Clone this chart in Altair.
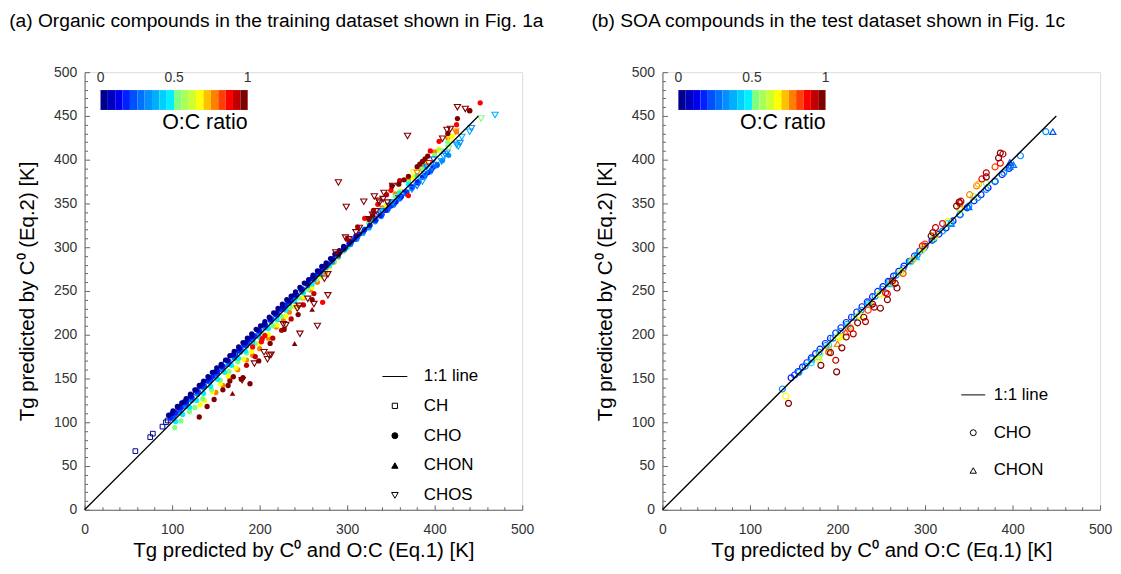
import altair as alt
import pandas as pd

# ------------------------------------------------------------------
# Colour map (20-level jet-like colour bar for O:C ratio 0..1)
# ------------------------------------------------------------------
OC_COLORS = ["#00008F", "#0000BF", "#0000EF", "#0020FF", "#0050FF",
             "#0070FF", "#0090FF", "#00B0FF", "#00D0FF", "#00F0FF",
             "#80FF80", "#A8FF58", "#D0FF30", "#FFFF00", "#FFC000",
             "#FF8000", "#FF4000", "#FF0000", "#C00000", "#800000"]
OC_BINS = [0, 0.05, 0.1, 0.15, 0.2, 0.25, 0.3, 0.35, 0.4, 0.45, 0.5,
           0.55, 0.6, 0.65, 0.7, 0.75, 0.8, 0.85, 0.9, 0.95, 1]
OC_TICKS = [0, 0.5, 1]

x_major = [0, 100, 200, 300, 400, 500]
x_minor = [20, 40, 60, 80, 120, 140, 160, 180, 220, 240, 260, 280,
           320, 340, 360, 380, 420, 440, 460, 480]
y_major = [0, 50, 100, 150, 200, 250, 300, 350, 400, 450, 500]
y_minor = [10, 20, 30, 40, 60, 70, 80, 90, 110, 120, 130, 140, 160, 170, 180, 190,
           210, 220, 230, 240, 260, 270, 280, 290, 310, 320, 330, 340, 360, 370,
           380, 390, 410, 420, 430, 440, 460, 470, 480, 490]

# 1:1 line end points
line_x = [0, 450]
line_y = [0, 450]

# ------------------------------------------------------------------
# Panel (a): training dataset
# ------------------------------------------------------------------
a_ch_x = [58, 75, 78, 89, 93, 95, 99, 103, 107, 111, 116, 121, 127, 134, 142, 151, 161, 172, 185]
a_ch_y = [67, 83, 87, 95, 100, 102, 106, 110, 114, 118, 123, 128, 134, 141, 148, 157, 167, 178, 190]
a_ch_oc = 0.0

a_cho1_x = [96, 101, 106, 111, 116, 121, 126, 131, 136, 141, 146, 151, 156, 161, 166, 171, 176, 181,
            186, 191, 196, 201, 206, 211, 216, 221, 226, 231, 236, 241, 246, 251, 256, 261, 266, 271,
            276, 281, 286, 291, 296]
a_cho1_y = [108, 113, 118, 122, 127, 132, 137, 142, 147, 152, 157, 162, 166, 171, 176, 181, 186, 191,
            196, 201, 206, 210, 215, 220, 225, 230, 235, 240, 244, 249, 254, 259, 263, 268, 273, 278,
            282, 287, 292, 296, 301]
a_cho1_oc = 0.02

a_cho1b_x = [100, 107, 114, 121, 128, 135, 142, 149, 156, 163, 170, 177, 184, 191, 198, 205, 212, 219,
             226, 233, 240, 247, 254, 261, 268, 275, 282, 289, 296, 303, 310]
a_cho1b_y = [110, 117, 123.5, 130, 137, 144, 150.5, 157.5, 164, 171, 177.5, 184.5, 191, 198, 205, 211.5,
             218.5, 225, 232, 238.5, 245.5, 252, 259, 266, 272.5, 279, 286, 293, 299.5, 306.5, 313]
a_cho1b_oc = 0.08

a_cho2_x = [98, 104, 110, 116, 122, 128, 134, 140, 146, 152, 158, 164, 170, 176, 182, 188, 194, 200,
            206, 212, 218, 224, 230, 236, 242, 248, 254, 260, 266, 272, 278, 284, 290, 296, 302, 308,
            314, 320, 326, 332, 338, 344, 350, 356, 362, 368, 374, 380, 386, 392, 398]
a_cho2_y = [105, 111, 117, 123, 129, 135, 141, 147, 152, 158, 164, 170, 176, 182, 188, 194, 199, 205,
            211, 217, 223, 229, 234, 240, 246, 252, 258, 264, 269, 275, 281, 287, 292, 298, 304, 309,
            315, 320, 325, 331, 336, 342, 347, 352, 358, 363, 369, 374, 380, 385, 391]
a_cho2_oc = 0.17

a_cho2b_x = [102, 109, 116, 123, 130, 137, 144, 151, 158, 165, 172, 179, 186, 193, 200, 207, 214, 221,
             228, 235, 242, 249, 256, 263, 270, 277, 284, 291, 298, 305, 312, 319, 326, 333, 340, 347,
             354, 361, 368, 375, 382, 389, 396, 403]
a_cho2b_y = [107, 114, 121, 128, 135, 141.5, 148.5, 155.5, 162.5, 169.5, 176.5, 183, 190, 197, 204, 211,
             218, 225, 231.5, 238.5, 245.5, 252.5, 259, 266, 273, 280, 286.5, 293, 299.5, 306, 312,
             318.5, 325, 331, 337.5, 344, 350, 356.5, 363, 369, 375.5, 382, 388, 394]
a_cho2b_oc = 0.22

a_cho3_x = [101, 108, 115, 122, 129, 136, 143, 150, 157, 164, 171, 178, 185, 192, 199, 206, 213, 220,
            227, 234, 241, 248, 255, 262, 269, 276, 283, 290, 297, 304, 311, 318, 325, 332, 339, 346,
            353, 360, 367, 374, 381, 388, 395, 402, 409, 416]
a_cho3_y = [104, 111, 118, 125, 132, 139, 146, 153, 160, 166, 173, 180, 187, 194, 201, 208, 215, 222,
            229, 236, 243, 249, 256, 263, 270, 277, 283, 290, 297, 303, 309, 316, 322, 329, 335, 342,
            348, 355, 361, 367, 373, 380, 386, 393, 399, 405]
a_cho3_oc = 0.32

a_cho4_x = [104, 112, 120, 128, 136, 144, 152, 160, 168, 176, 184, 192, 200, 210, 220, 230, 240, 250,
            260, 270, 280, 290, 300, 310, 320, 330, 340, 350, 360, 370, 380, 390]
a_cho4_y = [101, 109, 117, 125, 133, 141, 149, 157, 165, 173, 181, 189, 197, 207, 217, 228, 238, 248,
            258, 269, 279, 289, 300, 311, 321, 331, 342, 352, 362, 372, 382, 392]
a_cho4_oc = 0.47

a_cho5_x = [103, 110, 120, 126, 135, 145, 155, 165, 175, 185, 195, 205, 215, 225, 235, 245, 255, 265,
            275, 285, 295, 310, 325, 340, 355, 370, 385, 400, 415]
a_cho5_y = [94, 101.5, 112, 117, 127, 137, 148, 158, 169, 179, 190, 200, 210, 221, 231, 242, 252, 263,
            274, 284, 295, 311, 327, 343, 358, 374, 389, 405, 420]
a_cho5_oc = 0.53

a_cho6_x = [132, 137, 146, 155, 164, 173, 182, 191, 200, 210, 220, 230, 240, 250, 260, 270, 280, 290,
            300, 315, 330, 345, 360, 375, 390, 405, 420]
a_cho6_y = [120, 125, 135, 144, 153, 162, 172, 181, 190, 200, 211, 221, 232, 243, 254, 266, 277, 288,
            299, 316, 332, 348, 364, 380, 396, 412, 427]
a_cho6_oc = 0.67

a_cho7_x = [150, 158, 166, 175, 185, 192, 200, 210, 219, 227, 234, 242, 250, 258, 266, 275, 285, 295,
            310, 325, 340, 355, 370, 385, 400, 415, 425]
a_cho7_y = [134, 142, 150, 160, 171, 176.5, 184, 196, 208.7, 216, 225.8, 233, 242, 251, 260, 271, 283,
            295, 312, 328, 345, 361, 377, 393, 409, 425, 432]
a_cho7_oc = 0.77

a_cho8_x = [192, 202, 203, 206, 272, 320, 335, 350, 370, 395, 405, 425, 440, 452]
a_cho8_y = [186, 192, 195.5, 199, 237, 333, 349, 365, 359, 410, 421, 440, 456, 465]
a_cho8_oc = 0.87

a_cho9_x = [185, 195, 215, 225, 236, 250, 262, 300, 312, 330, 345, 360]
a_cho9_y = [165, 175, 196, 205, 218, 234, 247, 309, 323, 342, 360, 376]
a_cho9_oc = 0.92

a_cho10_x = [131, 140, 148, 158, 164, 166, 170, 179, 181, 189, 199, 212, 228, 244, 260, 325, 329, 351,
             359, 365, 370, 380, 383, 386, 389, 392, 415, 426, 440]
a_cho10_y = [106, 118, 126, 137, 142, 147, 152, 149, 151, 144, 170, 190, 206, 223, 240, 332, 336, 370,
             372, 377, 381, 392, 395, 398, 401, 404, 430, 447, 456]
a_cho10_oc = 0.97

a_chon_x = [169, 240, 260]
a_chon_y = [133, 190, 229]
a_chon_oc = [0.97, 0.97, 0.97]

a_chos_red_x = [180, 194, 205, 209, 211, 213, 227, 230, 243, 245, 246, 255, 262, 266, 274, 278, 278,
                287, 291, 290, 299, 298, 302, 310, 314, 319, 325, 329, 331, 333, 336, 337, 341, 342,
                346, 352, 369, 409, 414, 418, 426, 435]
a_chos_red_y = [148, 167, 180, 172, 176, 177, 212, 211, 230, 233, 201, 241, 235, 210, 264, 245, 269,
                294, 292, 374, 346, 311, 309, 317, 322, 352, 332, 337, 358, 341, 353, 351, 355, 362,
                351, 370, 427, 424, 434, 435, 460, 458]
a_chos_red_oc = 0.97

a_chos_x = [333, 340, 348, 352, 359, 367, 374, 380, 386, 389, 391, 397, 399, 401, 408, 410, 412, 414,
            425, 427, 429, 431, 440, 442, 469, 453, 406, 416, 418, 376, 424, 380, 393]
a_chos_y = [337, 341, 347, 351, 356, 362, 366, 370, 375, 383, 392, 391, 400, 394, 398, 404, 406, 408,
            417, 415, 419, 426, 432, 436, 451, 447, 409, 413, 423, 385, 432, 385, 396]
a_chos_oc = [0.22, 0.27, 0.22, 0.32, 0.27, 0.22, 0.32, 0.27, 0.37, 0.32, 0.27, 0.32, 0.22, 0.27, 0.32,
             0.37, 0.32, 0.27, 0.32, 0.37, 0.32, 0.37, 0.37, 0.32, 0.37, 0.53, 0.53, 0.53, 0.67, 0.67,
             0.77, 0.77, 0.87]

# ------------------------------------------------------------------
# Panel (b): SOA test dataset
# ------------------------------------------------------------------
b_cho1_x = [147, 151, 155, 160, 165, 170, 175, 180, 186, 192, 198, 204, 210, 216, 222, 228, 234, 240,
            246, 252, 258, 264, 270, 276, 282, 288, 294, 300, 308, 316, 324, 332, 340, 348, 356, 364,
            372, 380, 388, 396]
b_cho1_y = [150.8, 154, 158, 163, 168, 173.5, 178.5, 183.5, 190, 196, 202, 208, 214, 220, 226, 232,
            237.5, 243.5, 249.5, 255, 261, 267, 272.5, 278.5, 284, 290, 295.5, 301, 308, 315, 322, 330,
            337, 345, 353, 360, 368, 375, 383, 390]
b_cho1_oc = 0.17

b_cho2_x = [137, 156, 163, 171, 179, 187, 195, 203, 211, 219, 227, 235, 243, 251, 259, 267, 275, 283,
            291, 299, 310, 320, 330, 340, 350, 360, 370, 380, 390, 398, 409, 438]
b_cho2_y = [138, 157, 164, 172, 180, 188, 196, 204, 212, 220, 228, 236, 244, 252, 260, 268, 275.5, 283.5,
            291, 299, 309, 318.5, 328, 337.5, 347, 356.5, 366, 375.5, 385, 393, 404.5, 432]
b_cho2_oc = 0.32

b_cho3_x = [170, 180, 190, 200, 212, 224, 236, 248, 260, 272, 284, 296, 310, 325, 340, 355, 370]
b_cho3_y = [168, 178, 188, 198, 210, 222, 234.5, 246.5, 258.5, 271, 283.5, 296, 311, 327, 342.5, 358, 373]
b_cho3_oc = [0.47, 0.53, 0.47, 0.53, 0.47, 0.53, 0.47, 0.58, 0.47, 0.53, 0.47, 0.53, 0.58, 0.47, 0.53,
             0.58, 0.53]

b_cho4_x = [141, 178, 190, 202, 214, 226, 238, 250, 262, 274, 286, 298, 312, 326, 340, 351, 359, 361]
b_cho4_y = [130, 172, 184, 196.5, 209, 221.5, 234, 246.5, 259, 272, 285.5, 299, 314, 329.5, 345, 360,
            370, 372]
b_cho4_oc = [0.67, 0.67, 0.72, 0.67, 0.72, 0.67, 0.72, 0.67, 0.72, 0.67, 0.72, 0.67, 0.72, 0.67, 0.72,
             0.77, 0.77, 0.72]

b_cho5_x = [190, 215, 235, 255, 275, 297, 300, 320, 340, 365, 380, 386]
b_cho5_y = [180, 207, 228, 248, 270, 301.5, 303.5, 327, 350, 378, 391.7, 396]
b_cho5_oc = [0.82, 0.87, 0.82, 0.87, 0.82, 0.87, 0.82, 0.87, 0.82, 0.87, 0.82, 0.87]

b_cho6_x = [144, 181, 199, 198, 192, 205, 218, 210, 223, 232, 230, 249, 242, 240, 257, 257, 268, 266,
            263, 307, 309, 312, 336, 339, 341, 370, 370, 384, 386, 389]
b_cho6_y = [121.6, 165, 157.6, 170.8, 179.5, 185, 201, 197.4, 213.6, 215, 220, 230.3, 231.5, 235, 240,
            246.6, 253.4, 258.7, 261.7, 312.8, 316.7, 322.4, 347, 351.5, 352.6, 380.3, 385, 402, 407.6,
            406.5]
b_cho6_oc = [0.97, 0.97, 0.97, 0.92, 0.97, 0.97, 0.92, 0.97, 0.97, 0.92, 0.97, 0.97, 0.92, 0.97, 0.97,
             0.92, 0.97, 0.97, 0.92, 0.97, 0.97, 0.92, 0.97, 0.97, 0.92, 0.97, 0.92, 0.97, 0.97, 0.92]

b_chon_x = [446, 397, 401, 397, 179, 209.5, 200, 205, 260, 290, 330, 350]
b_chon_y = [432, 392.4, 394.3, 397, 174.6, 203, 189.8, 198, 258, 289, 327, 346]
b_chon_oc = [0.22, 0.27, 0.27, 0.22, 0.53, 0.82, 0.77, 0.67, 0.37, 0.42, 0.32, 0.27]

# legend entries
a_entries = ["1:1 line", "CH", "CHO", "CHON", "CHOS"]
a_shapes = ["stroke", "square", "circle", "triangle-up", "triangle-down"]
a_fills = ["transparent", "transparent", "black", "black", "transparent"]
a_sizes = [625, 28, 36, 40, 45]

b_entries = ["1:1 line", "CHO", "CHON"]
b_shapes = ["stroke", "circle", "triangle-up"]
b_fills = ["transparent", "transparent", "transparent"]
b_sizes = [576, 36, 40]

FONT = "Liberation Sans"
PW = 440
PH = 440


def frame(xs, ys, oc):
    if not isinstance(oc, list):
        oc = [oc] * len(xs)
    return pd.DataFrame({"x": xs, "y": ys, "oc": oc})


XS = alt.Scale(domain=[0, 500], nice=False, zero=False)
YS = alt.Scale(domain=[0, 500], nice=False, zero=False)
CS = alt.Scale(type="quantize", domain=[0, 1], range=OC_COLORS)


def oc_legend():
    return alt.Legend(
        type="gradient", direction="horizontal", orient="none",
        legendX=16, legendY=18, padding=0, values=OC_BINS,
        gradientLength=148, gradientThickness=20, gradientStrokeWidth=0,
        title="O:C ratio", titleOrient="bottom", titleAnchor="end",
        titleFontSize=21.5, titleFontWeight="normal", titleColor="black", titleFont=FONT,
        titlePadding=1,
        labelFontSize=1, labelOffset=0, labelOverlap=False, labelExpr="''",
    )


def pts(df, shape, filled, size, sw=1.0):
    return alt.Chart(df).mark_point(
        shape=shape, filled=filled, size=size, strokeWidth=sw, opacity=1
    ).encode(
        x=alt.X("x:Q", scale=XS, axis=None),
        y=alt.Y("y:Q", scale=YS, axis=None),
        color=alt.Color("oc:Q", scale=CS, legend=oc_legend()),
    )


def oc_tick_layer():
    # invisible gradient legend that only carries the colour-bar tick labels
    df = pd.DataFrame({"oc": OC_TICKS})
    return alt.Chart(df).transform_filter("false").mark_point().encode(
        stroke=alt.Stroke("oc:Q", scale=alt.Scale(domain=[-0.0001, 1.0001], range=["white", "white"]),
                          legend=alt.Legend(
                              type="gradient", direction="horizontal", orient="none",
                              legendX=16, legendY=-2, padding=0, title=None,
                              gradientLength=148, gradientThickness=1, gradientOpacity=0,
                              gradientStrokeWidth=0, values=OC_TICKS, labelAlign="center",
                              labelBaseline="middle", labelOffset=0, labelOverlap=False,
                              labelFontSize=14, labelColor="#333", labelFont=FONT,
                              labelExpr="datum.value == 0.5 ? '0.5' : datum.value == 1 ? '1' : '0'")),
    )


def base_layers(xtitle, ytitle):
    ldf = pd.DataFrame({"x": line_x, "y": line_y})
    line = alt.Chart(ldf).mark_line(color="black", strokeWidth=1.3).encode(
        x=alt.X("x:Q", scale=XS, axis=alt.Axis(
            values=x_major, title=xtitle, ticks=False, tickSize=0, grid=False,
            labelPadding=13, titlePadding=4, labelFontSize=14, titleFontSize=20.5,
            titleFontWeight="normal", labelColor="#333", titleColor="black",
            domainColor="#666", labelFlush=False, labelFont=FONT, titleFont=FONT)),
        y=alt.Y("y:Q", scale=YS, axis=alt.Axis(
            values=y_major, title=ytitle, ticks=False, tickSize=0, grid=False,
            labelPadding=8, titlePadding=16, labelFontSize=14, titleFontSize=20.5,
            titleFontWeight="normal", labelColor="#333", titleColor="black",
            domainColor="#666", labelFlush=False, labelFont=FONT, titleFont=FONT)),
    )
    major = alt.Chart(ldf).mark_point(opacity=0, size=1).encode(
        x=alt.X("x:Q", scale=XS, axis=alt.Axis(
            orient="top", offset=-PH, values=x_major, tickSize=5, labels=False,
            domain=False, title=None, grid=False, tickColor="#666")),
        y=alt.Y("y:Q", scale=YS, axis=alt.Axis(
            orient="right", offset=-PW, values=y_major, tickSize=5, labels=False,
            domain=False, title=None, grid=False, tickColor="#666")),
    )
    minor = alt.Chart(ldf).mark_point(opacity=0, size=1).encode(
        x=alt.X("x:Q", scale=XS, axis=alt.Axis(
            orient="top", offset=-PH, values=x_minor, tickSize=3, labels=False,
            domain=False, title=None, grid=False, tickColor="#666")),
        y=alt.Y("y:Q", scale=YS, axis=alt.Axis(
            orient="right", offset=-PW, values=y_minor, tickSize=3, labels=False,
            domain=False, title=None, grid=False, tickColor="#666")),
    )
    return line, major, minor


def key_layer(entries, shapes, fills, sizes, lx, ly, loff, rowpad):
    leg = alt.Legend(
        title=None, orient="none", legendX=lx, legendY=ly, padding=0,
        labelFontSize=17, labelColor="black", labelFont=FONT, labelOffset=loff,
        rowPadding=rowpad, symbolStrokeWidth=1,
    )
    df = pd.DataFrame({"entry": entries})
    return alt.Chart(df).transform_filter("false").mark_point(
        filled=False, color="black", strokeWidth=1, opacity=1
    ).encode(
        shape=alt.Shape("entry:N", scale=alt.Scale(domain=entries, range=shapes), legend=leg),
        fill=alt.Fill("entry:N", scale=alt.Scale(domain=entries, range=fills), legend=leg),
        size=alt.Size("entry:N", scale=alt.Scale(type="ordinal", domain=entries, range=sizes),
                      legend=leg),
    )


xt = "Tg predicted by C\u2070 and O:C (Eq.1) [K]"
yt = "Tg predicted by C\u2070 (Eq.2) [K]"

# ---- panel (a)
line_a, major_a, minor_a = base_layers(xt, yt)
layers_a = [
    pts(frame(a_ch_x, a_ch_y, a_ch_oc), "square", False, 22, 1.0),
    pts(frame(a_cho7_x, a_cho7_y, a_cho7_oc), "circle", True, 28),
    pts(frame(a_cho6_x, a_cho6_y, a_cho6_oc), "circle", True, 28),
    pts(frame(a_cho5_x, a_cho5_y, a_cho5_oc), "circle", True, 28),
    pts(frame(a_cho4_x, a_cho4_y, a_cho4_oc), "circle", True, 28),
    pts(frame(a_cho3_x, a_cho3_y, a_cho3_oc), "circle", True, 28),
    pts(frame(a_cho2b_x, a_cho2b_y, a_cho2b_oc), "circle", True, 28),
    pts(frame(a_cho2_x, a_cho2_y, a_cho2_oc), "circle", True, 28),
    pts(frame(a_cho1b_x, a_cho1b_y, a_cho1b_oc), "circle", True, 28),
    pts(frame(a_cho1_x, a_cho1_y, a_cho1_oc), "circle", True, 28),
    pts(frame(a_chos_x, a_chos_y, a_chos_oc), "triangle-down", False, 40, 1.1),
    pts(frame(a_cho8_x, a_cho8_y, a_cho8_oc), "circle", True, 28),
    pts(frame(a_cho9_x, a_cho9_y, a_cho9_oc), "circle", True, 28),
    pts(frame(a_cho10_x, a_cho10_y, a_cho10_oc), "circle", True, 28),
    pts(frame(a_chon_x, a_chon_y, a_chon_oc), "triangle-up", True, 32),
    pts(frame(a_chos_red_x, a_chos_red_y, a_chos_red_oc), "triangle-down", False, 40, 1.1),
    line_a, major_a, minor_a,
    oc_tick_layer(),
    key_layer(a_entries, a_shapes, a_fills, a_sizes, 299, 293, 16, 12),
]
panel_a = alt.layer(*layers_a).resolve_axis(x="independent", y="independent").properties(
    width=PW, height=PH,
    title=alt.TitleParams(
        "(a) Organic compounds in the training dataset shown in Fig. 1a",
        anchor="start", frame="bounds", fontSize=19.3, fontWeight="normal",
        font=FONT, color="black", offset=34, dx=-8.5),
)

# ---- panel (b)
line_b, major_b, minor_b = base_layers(xt, yt)
layers_b = [
    pts(frame(b_cho1_x, b_cho1_y, b_cho1_oc), "circle", False, 36, 1.2),
    pts(frame(b_cho2_x, b_cho2_y, b_cho2_oc), "circle", False, 36, 1.2),
    pts(frame(b_cho3_x, b_cho3_y, b_cho3_oc), "circle", False, 36, 1.2),
    pts(frame(b_chon_x, b_chon_y, b_chon_oc), "triangle-up", False, 40, 1.2),
    pts(frame(b_cho4_x, b_cho4_y, b_cho4_oc), "circle", False, 36, 1.2),
    pts(frame(b_cho5_x, b_cho5_y, b_cho5_oc), "circle", False, 36, 1.2),
    pts(frame(b_cho6_x, b_cho6_y, b_cho6_oc), "circle", False, 36, 1.2),
    line_b, major_b, minor_b,
    oc_tick_layer(),
    key_layer(b_entries, b_shapes, b_fills, b_sizes, 300, 312, 8, 20),
]
panel_b = alt.layer(*layers_b).resolve_axis(x="independent", y="independent").properties(
    width=PW, height=PH,
    title=alt.TitleParams(
        "(b) SOA compounds in the test dataset shown in Fig. 1c",
        anchor="start", frame="bounds", fontSize=19.3, fontWeight="normal",
        font=FONT, color="black", offset=34, dx=-4),
)

chart = alt.hconcat(panel_a, panel_b, spacing=47).resolve_scale(
    color="independent", fill="independent", shape="independent", size="independent",
    stroke="independent"
).properties(
    padding={"left": 0, "top": 2, "right": 0, "bottom": 0}
).configure_view(stroke=None).configure(font=FONT)

chart.save("out.html", embed_options={"renderer": "svg", "actions": False})
